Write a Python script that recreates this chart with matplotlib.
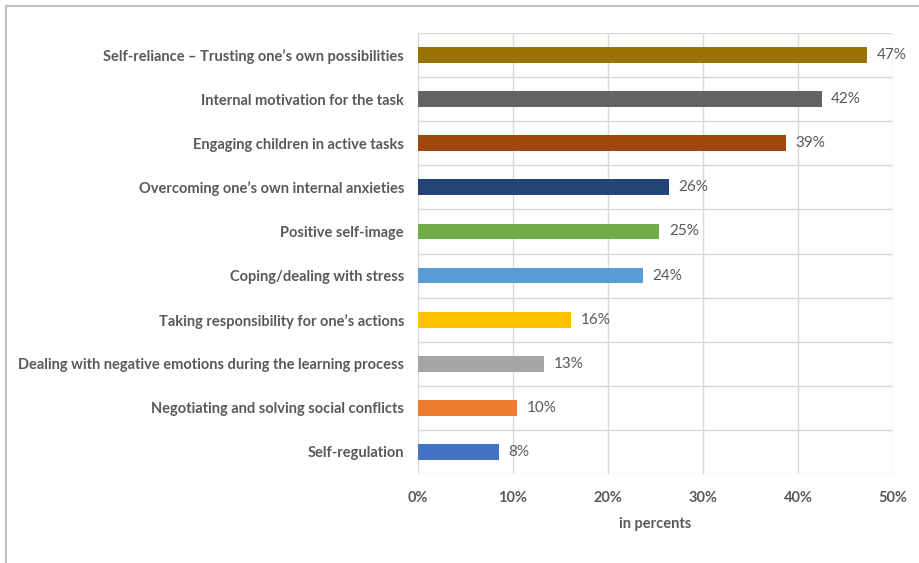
import matplotlib.pyplot as plt
from matplotlib.lines import Line2D
from matplotlib.ticker import PercentFormatter

categories = [
    "Self-regulation",
    "Negotiating and solving social conflicts",
    "Dealing with negative emotions during the learning process",
    "Taking responsibility for one\u2019s actions",
    "Coping/dealing with stress",
    "Positive self-image",
    "Overcoming one\u2019s own internal anxieties",
    "Engaging children in active tasks",
    "Internal motivation for the task",
    "Self-reliance \u2013 Trusting one\u2019s own possibilities",
]
values = [8.5, 10.4, 13.3, 16.1, 23.7, 25.4, 26.4, 38.7, 42.5, 47.3]
colors = ["#4472C4", "#ED7D31", "#A5A5A5", "#FFC000", "#5B9BD5",
          "#70AD47", "#264478", "#9E480E", "#636363", "#997300"]
xticks = [0, 10, 20, 30, 40, 50]

plt.rcParams['font.family'] = ['Lato', 'DejaVu Sans']
text_col = "#595959"

fig = plt.figure(figsize=(9.19, 5.63), dpi=100)
ax = fig.add_axes([418 / 919, 1 - 474 / 563, 475 / 919, 441 / 563])

y = range(len(categories))
ax.barh(y, values, height=0.36, color=colors, zorder=3)
for yi, v in zip(y, values):
    ax.text(v + 1.0, yi, f"{v:.0f}%", va='center', ha='left',
            fontsize=11, color=text_col, zorder=4)

ax.set_xlim(0, 50)
ax.set_ylim(-0.5, len(categories) - 0.5)
ax.set_xticks(xticks)
ax.xaxis.set_major_formatter(PercentFormatter(decimals=0))
ax.set_yticks(list(y))
ax.set_yticklabels(categories)
ax.set_yticks([i - 0.5 for i in range(len(categories) + 1)], minor=True)
ax.tick_params(axis='both', which='both', length=0, labelcolor=text_col)
ax.tick_params(axis='x', pad=12)
ax.tick_params(axis='y', pad=10)
for lab in ax.get_xticklabels() + ax.get_yticklabels():
    lab.set_fontweight('bold')
    lab.set_fontsize(10.5)

ax.grid(axis='x', which='major', color="#D9D9D9", lw=1, zorder=0)
ax.grid(axis='y', which='minor', color="#D9D9D9", lw=1, zorder=0)
for s in ax.spines.values():
    s.set_visible(False)

ax.set_xlabel("in percents", fontsize=10.5, fontweight='bold', color=text_col, labelpad=9)

# outer chart frame
fig.add_artist(Line2D([5.5 / 919, 5.5 / 919], [0, 1 - 5.5 / 563], color="#BFBFBF", lw=1.5))
fig.add_artist(Line2D([5.5 / 919, 1], [1 - 5.5 / 563, 1 - 5.5 / 563], color="#BFBFBF", lw=1.5))

fig.savefig("out.png", dpi=100)
